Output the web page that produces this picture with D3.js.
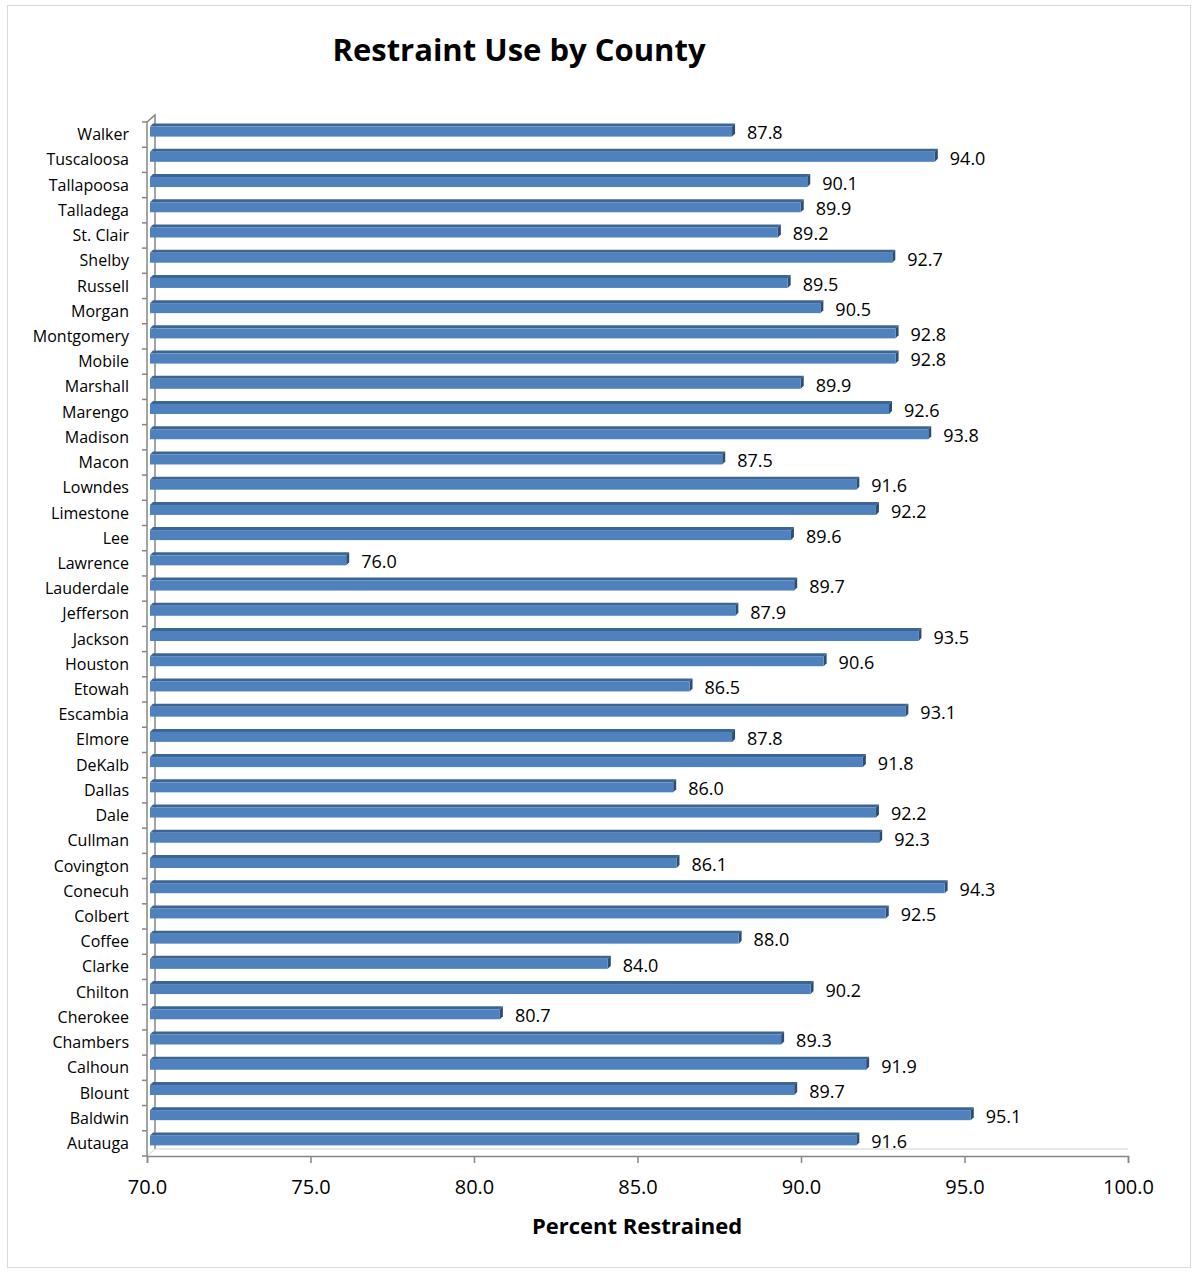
<!DOCTYPE html>
<html>
<head>
<meta charset="utf-8">
<script src="https://cdn.jsdelivr.net/npm/d3@7"></script>
<style>
  body { margin: 0; background: #fff; }
  text { font-family: "Open Sans", "Noto Sans", sans-serif; fill: #000; }
</style>
</head>
<body>
<div id="chart"></div>
<script>
// counties, bottom (Autauga) to top (Walker)
let counties = ["Autauga", "Baldwin", "Blount", "Calhoun", "Chambers", "Cherokee", "Chilton", "Clarke",
    "Coffee", "Colbert", "Conecuh", "Covington", "Cullman", "Dale", "Dallas", "DeKalb", "Elmore",
    "Escambia", "Etowah", "Houston", "Jackson", "Jefferson", "Lauderdale", "Lawrence", "Lee",
    "Limestone", "Lowndes", "Macon", "Madison", "Marengo", "Marshall", "Mobile", "Montgomery",
    "Morgan", "Russell", "Shelby", "St. Clair", "Talladega", "Tallapoosa", "Tuscaloosa", "Walker"];
let restrained = [91.6, 95.1, 89.7, 91.9, 89.3, 80.7, 90.2, 84.0, 88.0, 92.5, 94.3, 86.1, 92.3,
    92.2, 86.0, 91.8, 87.8, 93.1, 86.5, 90.6, 93.5, 87.9, 89.7, 76.0, 89.6, 92.2, 91.6, 87.5,
    93.8, 92.6, 89.9, 92.8, 92.8, 90.5, 89.5, 92.7, 89.2, 89.9, 90.1, 94.0, 87.8];
let xTicks = [70, 75, 80, 85, 90, 95, 100];

let dataset = counties.map((c, i) => ({county: c, value: restrained[i]}));

var W = 1194, H = 1272;
var pLeft = 147, pRight = 1128, pTop = 122, pBottom = 1156;
var dx = 8, dy = 7;   // wall depth

let svg = d3.select("#chart").append("svg")
    .attr("width", W)
    .attr("height", H);

// outer frame
svg.append("rect")
    .attr("x", 7.5).attr("y", 5.5)
    .attr("width", 1183).attr("height", 1262)
    .attr("fill", "#fff")
    .attr("stroke", "#d9d9d9");

let x = d3.scaleLinear().domain([70, 100]).range([pLeft, pRight]);
let y = d3.scaleBand()
    .domain(counties.slice().reverse())
    .range([pTop, pBottom]);

// walls
var axisColor = "#868686";
svg.append("path")
    .attr("d", "M" + pLeft + "," + pTop + "L" + (pLeft + dx) + "," + (pTop - dy) +
               "L" + (pLeft + dx) + "," + (pBottom - dy))
    .attr("fill", "none").attr("stroke", axisColor).attr("stroke-width", 1.5);
svg.append("path")
    .attr("d", "M" + pLeft + "," + pBottom + "L" + (pLeft + dx) + "," + (pBottom - dy) +
               "L" + pRight + "," + (pBottom - dy))
    .attr("fill", "none").attr("stroke", "#d0d0d0").attr("stroke-width", 1);

// y axis (front edge) with ticks between categories
let yAxis = svg.append("g")
    .attr("transform", "translate(" + pLeft + ",0)");
yAxis.append("line")
    .attr("y1", pTop).attr("y2", pBottom)
    .attr("stroke", axisColor).attr("stroke-width", 1.5);
yAxis.selectAll(".ytick")
    .data(d3.range(counties.length + 1))
    .enter().append("line")
    .attr("x1", -5).attr("x2", 0)
    .attr("y1", i => pTop + i * y.step())
    .attr("y2", i => pTop + i * y.step())
    .attr("stroke", axisColor).attr("stroke-width", 1.5);
yAxis.selectAll(".ylab")
    .data(counties)
    .enter().append("text")
    .attr("x", -18)
    .attr("y", d => y(d) + y.bandwidth() / 2)
    .attr("dy", "0.35em")
    .attr("text-anchor", "end")
    .style("font-size", "16px")
    .text(d => d);

// x axis
let xAxis = svg.append("g")
    .attr("transform", "translate(0," + pBottom + ")")
    .call(d3.axisBottom(x).tickValues(xTicks).tickSize(7).tickFormat(d3.format(".1f")));
xAxis.select(".domain").attr("stroke", axisColor).attr("stroke-width", 1.5);
xAxis.selectAll(".tick line").attr("stroke", axisColor).attr("stroke-width", 1.5);
xAxis.selectAll(".tick text")
    .attr("y", 24)
    .style("font-size", "20px")
    .style("font-family", "'Open Sans', sans-serif");

// bars (3D look: front face, top face, right face)
var bh = 10, bd = 3;
let bars = svg.append("g").selectAll("g")
    .data(dataset)
    .enter().append("g")
    .attr("transform", d => "translate(0," + (y(d.county) + y.bandwidth() / 2 - 3) + ")");

bars.append("path")
    .attr("d", d => {
        var x0 = x(70) + 3, x1 = x(d.value) + 3;
        return "M" + x0 + "," + (-bh / 2) + "L" + (x0 + bd) + "," + (-bh / 2 - bd) +
               "L" + (x1 + bd) + "," + (-bh / 2 - bd) + "L" + x1 + "," + (-bh / 2) + "Z";
    })
    .attr("fill", "#3b6595");
bars.append("path")
    .attr("d", d => {
        var x1 = x(d.value) + 3;
        return "M" + x1 + "," + (-bh / 2) + "L" + (x1 + bd) + "," + (-bh / 2 - bd) +
               "L" + (x1 + bd) + "," + (bh / 2 - bd) + "L" + x1 + "," + (bh / 2) + "Z";
    })
    .attr("fill", "#2c4d74");
bars.append("rect")
    .attr("x", x(70) + 3)
    .attr("y", -bh / 2)
    .attr("width", d => x(d.value) - x(70))
    .attr("height", bh)
    .attr("fill", "#4f81bd");

bars.append("text")
    .attr("x", d => x(d.value) + 18)
    .attr("y", 1.5)
    .attr("dy", "0.35em")
    .style("font-size", "18px")
    .text(d => d3.format(".1f")(d.value));

// titles
svg.append("text")
    .attr("x", 519).attr("y", 61)
    .attr("text-anchor", "middle")
    .style("font-size", "31px")
    .style("font-weight", "bold")
    .text("Restraint Use by County");

svg.append("text")
    .attr("x", 637).attr("y", 1234)
    .attr("text-anchor", "middle")
    .style("font-size", "22px")
    .style("font-weight", "bold")
    .text("Percent Restrained");
</script>
</body>
</html>
